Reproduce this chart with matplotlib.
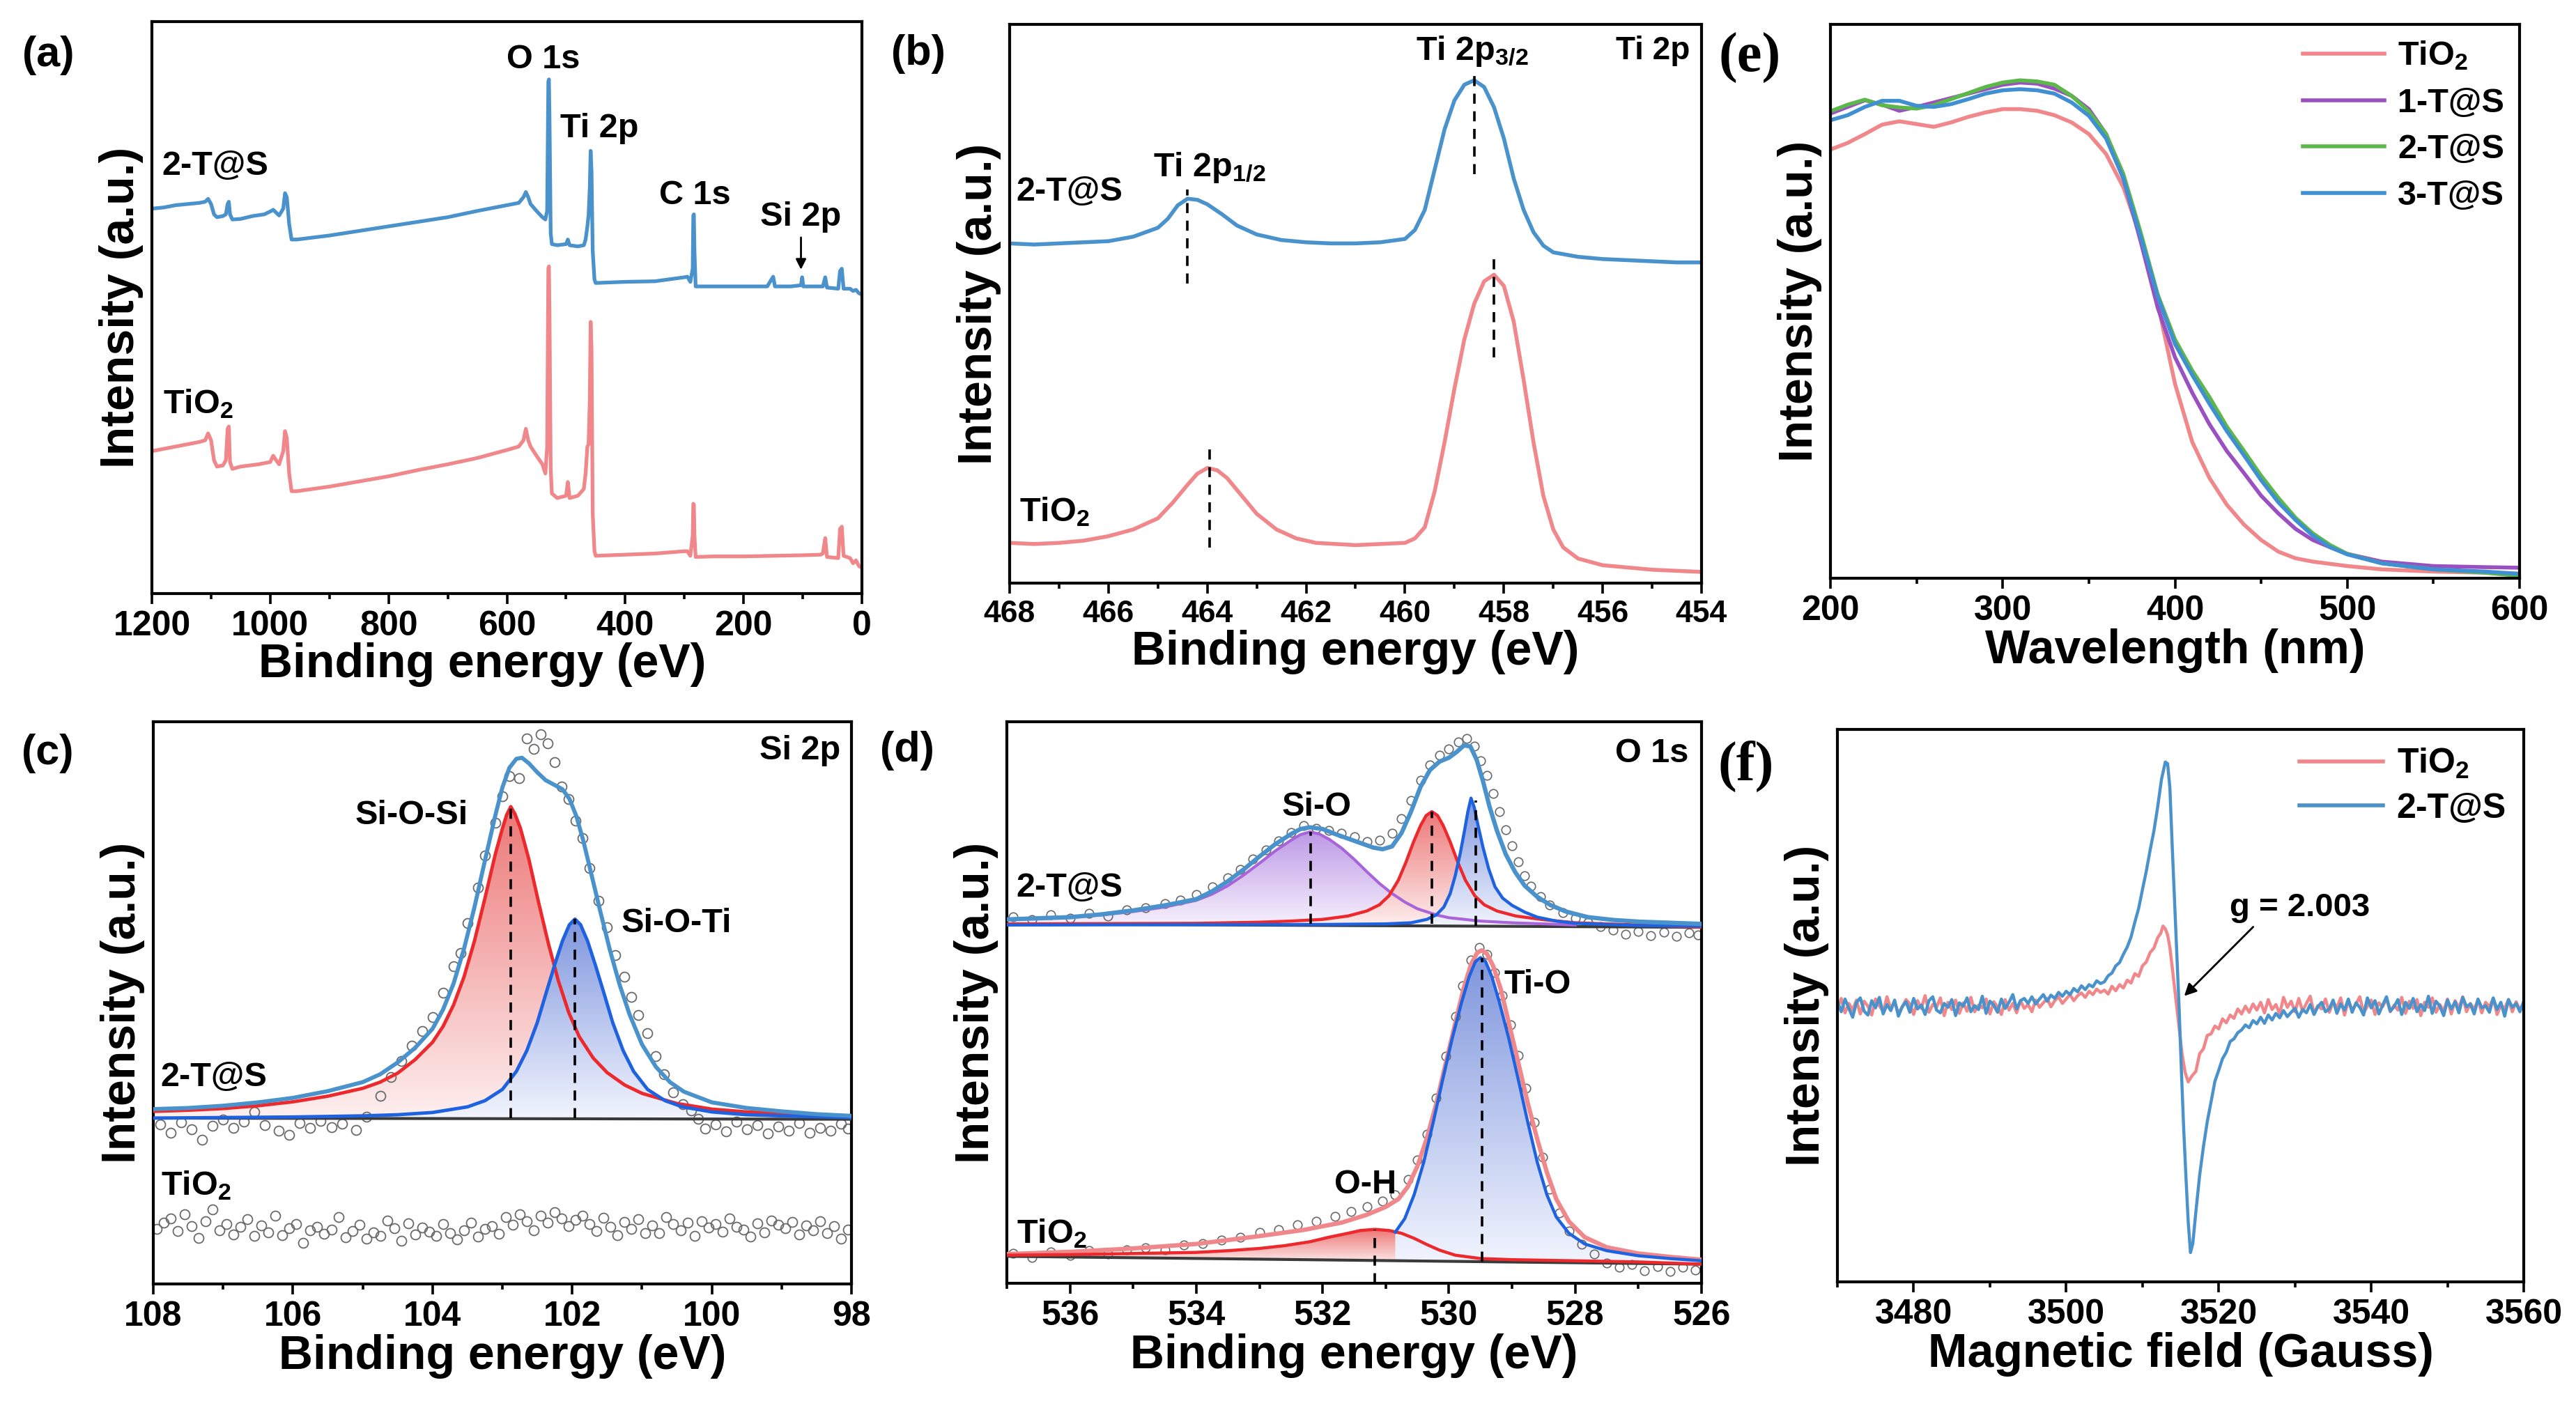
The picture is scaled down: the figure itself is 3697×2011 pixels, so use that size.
import numpy as np
import matplotlib
matplotlib.use("Agg")
import matplotlib.pyplot as plt
from matplotlib.patches import Polygon
from matplotlib.colors import LinearSegmentedColormap
from matplotlib.ticker import MultipleLocator

plt.rcParams['font.family'] = ['Liberation Sans', 'DejaVu Sans']
plt.rcParams['font.weight'] = 'bold'
plt.rcParams['axes.labelweight'] = 'bold'
plt.rcParams['mathtext.fontset'] = 'custom'
plt.rcParams['mathtext.rm'] = 'Liberation Sans:bold'
plt.rcParams['mathtext.bf'] = 'Liberation Sans:bold'
plt.rcParams['mathtext.it'] = 'Liberation Sans:bold'
plt.rcParams['mathtext.default'] = 'rm'

# ---- colours ----
PINK = '#F0878B'
STEEL = '#4A92CC'
FIT_RED = '#EC2A2E'
FIT_BLUE = '#1F62E0'
FIT_PURPLE = '#A864D8'
BASE = '#3a3a3a'
DOT = '#6a6a6a'

# ---- (a) survey, (binding energy, intensity in % of axis height) ----
A_BLUE = [(1200, 67.3), (1180, 67.5), (1160, 67.9), (1140, 68.1), (1120, 68.3), (1110, 68.5),
          (1105, 69.0), (1100, 68.1), (1095, 66.3), (1090, 65.8), (1080, 66.0), (1075, 66.3),
          (1072, 68.1), (1070, 68.5), (1068, 66.3), (1064, 65.4), (1050, 65.5), (1030, 66.0),
          (1010, 66.3), (1000, 66.8), (995, 67.1), (990, 66.6), (985, 66.1), (978, 67.3),
          (975, 70.0), (972, 69.3), (968, 64.6), (964, 61.9), (955, 61.9), (900, 62.6),
          (850, 63.4), (800, 64.2), (750, 65.0), (700, 65.8), (650, 66.9), (600, 67.9),
          (580, 68.3), (572, 69.3), (568, 70.2), (564, 69.3), (560, 68.1), (550, 66.9),
          (540, 65.8), (535, 65.4), (532, 66.9), (530, 89.5), (529, 89.9), (528, 83.3),
          (526, 63.0), (524, 61.1), (515, 60.9), (500, 61.1), (497, 61.9), (494, 60.9),
          (480, 60.7), (470, 60.9), (467, 61.9), (464, 64.2), (462, 66.1), (460, 70.8),
          (458.5, 77.4), (457, 73.9), (455, 59.9), (452, 54.9), (450, 54.3), (400, 54.5),
          (350, 54.6), (300, 55.3), (295, 55.4), (290, 54.5), (286, 56.8), (285, 66.1),
          (284, 66.3), (283, 59.9), (281, 53.7), (275, 53.7), (250, 53.7), (200, 53.7),
          (160, 53.7), (153, 54.9), (150, 55.4), (147, 53.7), (120, 53.7), (103, 53.9),
          (101, 55.3), (99, 53.7), (80, 53.7), (66, 53.7), (62, 55.3), (59, 53.5),
          (40, 53.3), (37, 56.4), (34, 56.8), (31, 53.3), (20, 53.3), (15, 52.9),
          (10, 53.1), (5, 52.5), (0, 52.3)]
A_PINK = [(1200, 24.9), (1180, 25.3), (1160, 25.7), (1140, 26.1), (1120, 26.5), (1110, 26.8),
          (1105, 28.0), (1100, 26.8), (1095, 23.3), (1090, 22.2), (1080, 22.4), (1075, 23.3),
          (1072, 28.8), (1070, 29.2), (1068, 23.0), (1064, 21.8), (1050, 22.2), (1020, 22.6),
          (1000, 23.0), (995, 24.1), (990, 23.3), (985, 22.6), (978, 24.9), (975, 28.4),
          (972, 27.2), (968, 21.0), (964, 17.9), (955, 17.9), (900, 18.7), (850, 19.6),
          (800, 20.5), (750, 21.6), (700, 22.6), (650, 23.7), (600, 25.1), (580, 25.7),
          (572, 26.8), (568, 28.8), (564, 26.8), (560, 25.7), (550, 24.1), (540, 22.6),
          (535, 21.0), (532, 25.7), (530, 56.8), (529, 57.2), (528, 49.0), (526, 21.8),
          (524, 17.5), (515, 16.7), (500, 17.1), (497, 19.5), (494, 16.7), (480, 17.1),
          (470, 18.3), (467, 21.0), (464, 25.7), (462, 26.1), (460, 33.5), (458.5, 47.5),
          (457, 42.8), (455, 14.0), (452, 7.4), (450, 6.6), (400, 6.8), (350, 7.0),
          (300, 7.4), (295, 7.4), (290, 6.6), (286, 10.1), (285, 15.7), (284, 15.6),
          (283, 10.1), (281, 6.4), (250, 6.5), (200, 6.5), (150, 6.6), (100, 6.7),
          (70, 6.8), (66, 7.0), (62, 9.7), (59, 6.4), (40, 6.2), (37, 11.3), (34, 11.7),
          (31, 6.6), (20, 6.2), (15, 5.3), (10, 5.8), (5, 4.8), (0, 4.5)]

# ---- (b) Ti 2p ----
B_BLUE = [(468, 60.8), (467.5, 60.6), (467, 60.8), (466.5, 61.0), (466, 61.2), (465.5, 62.0),
          (465, 63.6), (464.8, 65.2), (464.6, 67.6), (464.4, 68.8), (464.2, 68.6), (464, 67.8),
          (463.7, 66.0), (463.4, 64.0), (463, 62.4), (462.5, 61.4), (462, 61.0), (461.5, 60.8),
          (461, 60.8), (460.5, 61.0), (460, 61.6), (459.8, 63.2), (459.6, 66.8), (459.4, 74.0),
          (459.2, 81.2), (459, 86.4), (458.8, 89.2), (458.6, 90.0), (458.4, 88.8), (458.2, 85.2),
          (458, 79.6), (457.8, 72.4), (457.6, 66.8), (457.4, 62.8), (457.2, 60.4), (457, 59.2),
          (456.5, 58.4), (456, 58.0), (455.5, 57.8), (455, 57.6), (454.5, 57.4), (454, 57.4)]
B_PINK = [(468, 7.2), (467.5, 7.0), (467, 7.2), (466.5, 7.6), (466, 8.4), (465.5, 9.6),
          (465, 11.6), (464.7, 14.4), (464.4, 17.6), (464.2, 19.6), (464, 20.6), (463.8, 20.2),
          (463.6, 18.8), (463.3, 15.6), (463, 12.4), (462.6, 9.6), (462.2, 8.0), (461.8, 7.2),
          (461, 6.8), (460.5, 7.0), (460, 7.2), (459.8, 8.0), (459.6, 10.0), (459.4, 16.4),
          (459.2, 25.2), (459, 34.8), (458.8, 43.6), (458.6, 50.0), (458.4, 54.0), (458.2, 55.2),
          (458, 53.2), (457.8, 46.8), (457.6, 36.4), (457.4, 25.2), (457.2, 15.6), (457, 9.6),
          (456.8, 6.4), (456.5, 4.4), (456, 3.2), (455.5, 2.8), (455, 2.4), (454.5, 2.2), (454, 2.0)]
B_DASH = [(464.4, 53.6, 70.4), (458.6, 73.2, 91.2), (463.95, 6.4, 24.0), (458.2, 40.4, 58.4)]

# ---- (e) UV-vis ----
E_WL = [200, 210, 220, 230, 240, 250, 260, 270, 280, 290, 300, 310, 320, 330, 340, 350, 360,
        370, 380, 390, 400, 410, 420, 430, 440, 450, 460, 470, 480, 490, 500, 520, 550, 580, 600]
E_TIO2 = [77.4, 78.6, 80.2, 81.9, 82.5, 82.0, 81.5, 82.3, 83.3, 84.1, 84.7, 84.7, 84.4, 83.6,
          82.3, 80.2, 76.6, 70.6, 61.7, 49.6, 35.1, 24.6, 18.1, 13.3, 9.7, 6.9, 4.8, 3.6, 3.0,
          2.6, 2.2, 1.6, 1.2, 1.0, 0.8]
E_1TS = [83.9, 85.1, 86.3, 85.5, 84.4, 85.1, 85.9, 86.7, 87.5, 88.3, 89.1, 89.5, 89.3, 88.4,
         87.1, 84.7, 80.2, 72.2, 60.9, 48.8, 39.9, 33.5, 27.8, 23.0, 19.0, 14.9, 11.7, 8.9, 6.9,
         5.6, 4.4, 3.0, 2.2, 2.0, 1.9]
E_2TS = [84.3, 85.5, 86.4, 85.4, 85.0, 84.8, 85.4, 86.5, 87.6, 88.7, 89.5, 89.9, 89.7, 89.1,
         87.1, 84.3, 80.2, 73.0, 62.5, 51.2, 43.1, 37.5, 32.7, 27.4, 23.0, 18.5, 14.5, 10.9, 8.1,
         6.0, 4.4, 2.7, 1.6, 1.0, 0.4]
E_3TS = [82.7, 83.6, 85.1, 86.2, 86.2, 85.3, 85.1, 85.6, 86.5, 87.5, 88.1, 88.3, 88.1, 87.5,
         85.9, 83.5, 79.4, 72.2, 61.7, 50.8, 42.3, 36.7, 31.5, 26.6, 22.2, 17.7, 13.7, 10.5, 7.7,
         5.6, 4.3, 2.7, 1.6, 1.2, 0.8]

# ---- (c) Si 2p ----
C_BASE = [(108, 29.5), (98, 29.3)]
C_RED = [(108, 30.7), (107.5, 30.9), (107, 31.2), (106.5, 31.7), (106, 32.4), (105.5, 33.4),
         (105, 34.8), (104.75, 35.9), (104.5, 37.5), (104.25, 39.9), (104.0, 43.0),
         (103.85, 45.8), (103.7, 49.6), (103.55, 54.6), (103.4, 61.0), (103.25, 68.6),
         (103.1, 76.5), (103.0, 81.0), (102.94, 83.4), (102.88, 84.9), (102.82, 83.6),
         (102.74, 81.0), (102.62, 75.5), (102.48, 67.8), (102.34, 60.5), (102.2, 54.0),
         (102.05, 48.3), (101.9, 44.0), (101.7, 40.2), (101.5, 37.6), (101.25, 35.4),
         (101.0, 33.9), (100.5, 32.1), (100, 31.1), (99.5, 30.6), (99, 30.3), (98.5, 30.1),
         (98, 29.9)]
C_BLUE = [(108, 29.5), (107, 29.6), (106, 29.7), (105, 29.9), (104.5, 30.1), (104, 30.5),
          (103.5, 31.5), (103.25, 32.6), (103.0, 34.6), (102.8, 37.8), (102.65, 41.5),
          (102.5, 46.5), (102.38, 51.5), (102.25, 56.8), (102.14, 61.0), (102.04, 63.9),
          (101.96, 64.9), (101.88, 63.9), (101.78, 61.0), (101.67, 56.8), (101.54, 51.5),
          (101.42, 46.5), (101.27, 41.5), (101.12, 37.8), (100.92, 34.6), (100.67, 32.6),
          (100.42, 31.5), (100, 30.6), (99.5, 30.1), (99, 29.9), (98, 29.6)]
C_ENV = [(108, 31.1), (107.5, 31.3), (107, 31.7), (106.5, 32.3), (106, 33.1), (105.5, 34.3),
         (105, 35.9), (104.75, 37.3), (104.5, 39.4), (104.25, 42.0), (104.0, 45.4),
         (103.85, 48.8), (103.7, 53.4), (103.55, 59.6), (103.4, 67.0), (103.25, 75.3),
         (103.1, 83.4), (103.0, 88.3), (102.9, 91.8), (102.8, 93.4), (102.72, 93.6),
         (102.62, 92.6), (102.5, 91.0), (102.38, 89.6), (102.26, 88.8), (102.14, 88.0),
         (102.04, 86.3), (101.94, 83.2), (101.84, 78.8), (101.72, 72.6), (101.6, 66.4),
         (101.46, 59.4), (101.32, 53.2), (101.18, 48.0), (101.0, 42.6), (100.8, 38.6),
         (100.6, 35.9), (100.4, 34.2), (100, 32.3), (99.5, 31.3), (99, 30.7), (98.5, 30.2),
         (98, 29.9)]
C_DOTS_TS = [(107.9, 28.4), (107.75, 26.9), (107.6, 28.8), (107.45, 27.5), (107.3, 25.6),
             (107.15, 28.1), (107.0, 29.3), (106.85, 27.8), (106.7, 28.9), (106.55, 30.6),
             (106.4, 28.3), (106.2, 27.2), (106.05, 26.5), (105.9, 28.6), (105.75, 27.7),
             (105.6, 29.0), (105.45, 27.9), (105.3, 28.5), (105.1, 27.4), (104.95, 29.8),
             (104.75, 33.5), (104.6, 36.8), (104.45, 39.7), (104.3, 42.4), (104.15, 45.0),
             (104.0, 47.5), (103.85, 51.8), (103.7, 56.5), (103.6, 58.9), (103.5, 64.2),
             (103.35, 70.5), (103.25, 76.2), (103.1, 82.0), (103.0, 86.8), (102.9, 90.3),
             (102.76, 90.0), (102.65, 97.0), (102.55, 95.2), (102.45, 97.8), (102.35, 96.1),
             (102.25, 92.8), (102.15, 88.5), (102.05, 86.2), (101.95, 82.4), (101.85, 79.3),
             (101.75, 74.0), (101.62, 68.2), (101.5, 63.5), (101.38, 58.5), (101.25, 54.7),
             (101.15, 51.0), (101.05, 47.8), (100.92, 44.6), (100.8, 40.5), (100.68, 37.3),
             (100.55, 34.1), (100.42, 32.0), (100.3, 30.8), (100.2, 29.4), (100.1, 27.6),
             (99.95, 28.4), (99.8, 27.1), (99.65, 28.9), (99.5, 27.5), (99.35, 28.2),
             (99.2, 26.8), (99.05, 28.0), (98.9, 27.3), (98.75, 28.6), (98.6, 26.9),
             (98.45, 27.8), (98.3, 27.2), (98.15, 28.5), (98.05, 27.6)]
C_TIO2_E = np.linspace(107.95, 98.05, 100)
C_TIO2_Y = [9.8, 10.9, 11.6, 9.4, 12.4, 10.3, 8.2, 11.1, 13.3, 9.6,
            10.7, 8.8, 10.1, 11.5, 8.5, 10.4, 9.2, 12.2, 8.7, 9.9,
            10.6, 7.3, 9.5, 10.2, 8.9, 9.7, 11.9, 8.3, 9.4, 10.5,
            8.0, 9.2, 8.6, 11.3, 9.9, 7.7, 10.8, 8.8, 10.0, 9.3,
            8.5, 10.6, 9.1, 7.9, 9.6, 10.9, 8.4, 9.8, 10.3, 8.9,
            11.9, 10.5, 12.4, 11.2, 9.6, 12.1, 10.9, 12.8, 11.7, 10.3,
            11.4, 12.2, 10.7, 9.4, 11.8, 10.1, 8.7, 11.0, 9.8, 11.5,
            9.0, 10.4, 9.1, 11.9, 10.6, 9.5, 10.9, 8.6, 11.1, 10.0,
            10.7, 9.3, 11.6, 10.2, 9.7, 8.4, 10.8, 9.2, 11.3, 10.5,
            9.9, 11.0, 8.8, 10.4, 9.6, 11.2, 9.0, 10.3, 8.1, 9.7]
C_DASH = [(102.88, 29.5, 84.9), (101.96, 29.5, 64.9)]

# ---- (d) O 1s ----
D_BASE_UP = [(537, 64.0), (526, 63.4)]
D_BASE_LO = [(537, 4.8), (526, 3.4)]
D_PURPLE = [(537, 64.8), (536.5, 65.0), (536, 65.2), (535.5, 65.6), (535, 66.2), (534.5, 67.0),
            (534.0, 68.2), (533.75, 69.3), (533.5, 70.8), (533.25, 72.7), (533.0, 74.8),
            (532.75, 77.0), (532.5, 78.9), (532.35, 79.9), (532.2, 80.4), (532.05, 80.0),
            (531.9, 79.1), (531.7, 77.5), (531.5, 75.5), (531.3, 73.3), (531.1, 71.2),
            (530.9, 69.4), (530.7, 67.9), (530.5, 66.7), (530.2, 65.6), (530.0, 65.1),
            (529.5, 64.5), (529, 64.2), (528, 63.8)]
D_RED_UP = [(537, 64.0), (534, 64.1), (533, 64.3), (532.5, 64.5), (532, 64.8), (531.6, 65.4),
            (531.3, 66.3), (531.1, 67.4), (530.95, 69.0), (530.8, 71.8), (530.68, 75.0),
            (530.56, 78.6), (530.45, 81.5), (530.36, 83.3), (530.27, 84.0), (530.18, 83.3),
            (530.09, 81.5), (529.98, 78.6), (529.86, 75.0), (529.74, 71.8), (529.59, 69.0),
            (529.44, 67.4), (529.24, 66.3), (528.94, 65.4), (528.54, 64.8), (528, 64.2),
            (527, 63.8), (526, 63.4)]
D_BLUE_UP = [(537, 63.8), (532, 63.9), (531, 64.0), (530.6, 64.2), (530.35, 64.8), (530.2, 65.6),
             (530.08, 67.0), (529.98, 69.4), (529.9, 72.6), (529.82, 76.6), (529.75, 80.8),
             (529.7, 84.0), (529.65, 86.4), (529.6, 84.8), (529.54, 81.6), (529.46, 77.6),
             (529.37, 73.8), (529.27, 70.6), (529.15, 68.6), (529.0, 67.3), (528.8, 66.1),
             (528.6, 65.2), (528.3, 64.5), (528, 64.1), (527, 63.7), (526, 63.6)]
D_ENV_UP = [(537, 64.8), (536.5, 65.0), (536, 65.2), (535.5, 65.7), (535, 66.4), (534.5, 67.3),
            (534, 68.4), (533.75, 69.8), (533.5, 71.6), (533.25, 73.7), (533, 76.0),
            (532.75, 78.2), (532.5, 80.0), (532.35, 80.9), (532.2, 81.2), (532.0, 80.9),
            (531.8, 80.0), (531.6, 79.2), (531.4, 78.4), (531.2, 77.6), (531.05, 77.3),
            (530.9, 77.8), (530.75, 80.2), (530.6, 84.0), (530.45, 88.4), (530.3, 91.4),
            (530.15, 92.9), (530.0, 93.6), (529.88, 94.6), (529.76, 95.8), (529.66, 95.6),
            (529.56, 93.2), (529.46, 89.4), (529.36, 85.0), (529.24, 80.6), (529.1, 76.4),
            (528.95, 73.2), (528.8, 70.8), (528.6, 68.8), (528.4, 67.4), (528.15, 66.2),
            (527.8, 65.2), (527.4, 64.7), (527, 64.4), (526.5, 64.2), (526, 64.0)]
D_RED_LO = [(537, 5.0), (536, 5.1), (535, 5.3), (534, 5.5), (533.5, 5.8), (533, 6.2),
            (532.6, 6.7), (532.2, 7.4), (531.9, 8.2), (531.6, 8.9), (531.4, 9.4), (531.17, 9.6),
            (530.95, 9.4), (530.75, 8.9), (530.55, 8.0), (530.35, 6.9), (530.15, 5.9),
            (529.9, 5.0), (529.5, 4.4), (529, 4.2), (528, 4.0), (527, 3.8), (526, 3.4)]
D_BLUE_LO = [(530.85, 9.1), (530.7, 11.5), (530.55, 15.8), (530.4, 21.5), (530.25, 28.6),
             (530.1, 36.2), (529.95, 43.5), (529.8, 50.0), (529.68, 54.6), (529.58, 57.3),
             (529.5, 58.0), (529.42, 57.3), (529.32, 54.6), (529.2, 50.0), (529.05, 43.5),
             (528.9, 36.2), (528.75, 28.6), (528.6, 21.5), (528.45, 15.8), (528.3, 11.8),
             (528.1, 8.9), (527.85, 7.0), (527.5, 5.8), (527, 4.9), (526.5, 4.4), (526, 4.0)]
D_ENV_LO = [(537, 5.2), (536, 5.6), (535, 6.2), (534, 7.0), (533, 8.4), (532.3, 9.5),
            (531.7, 10.8), (531.3, 12.2), (531.0, 13.6), (530.8, 15.0), (530.65, 17.2),
            (530.5, 20.8), (530.35, 25.8), (530.2, 32.0), (530.05, 39.2), (529.9, 46.3),
            (529.77, 52.4), (529.65, 56.8), (529.55, 58.9), (529.48, 59.3), (529.4, 58.7),
            (529.3, 56.5), (529.18, 52.4), (529.05, 46.3), (528.9, 39.2), (528.75, 32.0),
            (528.6, 25.6), (528.45, 19.8), (528.3, 15.0), (528.1, 11.0), (527.85, 8.2),
            (527.5, 6.4), (527, 5.3), (526.5, 4.7), (526, 4.2)]
D_DOTS_UP = [(536.9, 65.3), (536.6, 64.8), (536.3, 65.6), (536.0, 65.0), (535.7, 65.9),
             (535.4, 65.4), (535.1, 66.5), (534.8, 66.9), (534.5, 67.6), (534.25, 68.3),
             (534.0, 69.2), (533.75, 70.6), (533.5, 72.2), (533.3, 73.7), (533.1, 75.5),
             (532.9, 77.2), (532.7, 78.8), (532.5, 80.3), (532.3, 81.5), (532.1, 81.0),
             (531.9, 80.6), (531.7, 80.1), (531.5, 79.5), (531.3, 78.6), (531.1, 78.9),
             (530.9, 80.2), (530.75, 82.8), (530.6, 86.0), (530.45, 89.6), (530.3, 92.3),
             (530.15, 94.0), (530.0, 95.2), (529.85, 96.4), (529.72, 97.0), (529.6, 95.6),
             (529.5, 93.0), (529.4, 90.4), (529.3, 87.2), (529.2, 84.0), (529.1, 80.8),
             (529.0, 77.9), (528.9, 75.1), (528.8, 72.6), (528.7, 70.7), (528.55, 68.8),
             (528.4, 67.4), (528.2, 66.0), (528.0, 65.0), (527.8, 64.3), (527.6, 63.5),
             (527.4, 62.9), (527.2, 62.2), (527.0, 62.7), (526.8, 61.9), (526.6, 62.5),
             (526.4, 61.8), (526.2, 62.4), (526.05, 62.0)]
D_DOTS_LO = [(536.9, 5.3), (536.6, 4.6), (536.3, 5.6), (536.0, 5.0), (535.7, 5.8), (535.4, 5.2),
             (535.1, 6.0), (534.8, 6.3), (534.5, 5.9), (534.2, 6.8), (533.9, 7.1), (533.6, 7.7),
             (533.3, 8.2), (533.0, 9.0), (532.7, 9.6), (532.4, 10.4), (532.1, 11.1),
             (531.8, 11.9), (531.55, 12.8), (531.3, 13.7), (531.05, 14.6), (530.85, 15.8),
             (530.65, 18.5), (530.5, 21.9), (530.35, 26.5), (530.2, 33.0), (530.05, 40.5),
             (529.9, 47.5), (529.78, 53.0), (529.65, 57.6), (529.52, 59.8), (529.4, 58.5),
             (529.28, 55.3), (529.15, 51.2), (529.02, 46.0), (528.9, 40.6), (528.78, 34.8),
             (528.65, 28.6), (528.52, 22.4), (528.4, 16.8), (528.25, 12.5), (528.1, 9.3),
             (527.9, 7.0), (527.7, 5.2), (527.5, 3.6), (527.3, 2.8), (527.1, 3.4), (526.9, 2.2),
             (526.7, 3.0), (526.5, 2.1), (526.3, 2.9), (526.1, 2.4)]
D_DASH = [(532.19, 64.0, 80.4), (530.27, 64.0, 84.0), (529.58, 63.6, 86.0),
          (531.17, 0.0, 9.6), (529.47, 3.8, 58.0)]

# ---- (f) EPR ----
F_B_LEFT = np.arange(3470, 3505, 0.5)
F_B_RIGHT = np.arange(3525.5, 3560.01, 0.5)
F_BLUE_LEFT = [50.8, 48.9, 51.2, 49.5, 47.9, 50.6, 51.4, 49.0, 48.3, 50.9,
               49.6, 51.5, 48.5, 50.2, 49.1, 51.0, 48.1, 49.8, 50.7, 48.8,
               51.3, 49.4, 50.1, 48.4, 50.9, 51.6, 49.2, 48.7, 50.4, 49.7,
               51.1, 48.2, 50.5, 49.9, 51.4, 48.9, 50.0, 49.3, 51.7, 48.6,
               50.8, 50.1, 48.8, 51.2, 49.5, 50.6, 52.0, 49.4, 50.9, 51.3,
               50.4, 51.6, 50.3, 51.2, 52.0, 50.8, 51.9, 51.3, 52.4, 51.7,
               52.6, 52.0, 53.1, 52.5, 53.6, 52.9, 53.8, 53.4, 54.5, 54.0]
F_B_MID_BLUE = [3505, 3505.5, 3506, 3506.5, 3507, 3507.5, 3508, 3508.5, 3509, 3509.5, 3510,
                3510.5, 3511, 3511.5, 3512, 3512.5, 3513, 3513.3, 3513.6, 3513.9, 3514.2,
                3514.5, 3514.8, 3515.1, 3515.4, 3515.7, 3516.0, 3516.3, 3516.6, 3517, 3517.5,
                3518, 3518.5, 3519, 3519.5, 3520, 3520.5, 3521, 3521.5, 3522, 3522.5, 3523,
                3523.5, 3524, 3524.5, 3525]
F_BLUE_MID = [54.3, 55.4, 55.9, 57.2, 57.8, 59.3, 60.6, 62.4, 65.1, 67.6, 71.0, 74.3, 78.1,
              81.6, 86.0, 91.0, 94.1, 93.8, 89.4, 79.0, 69.3, 59.6, 49.9, 38.5, 28.0, 19.1,
              10.9, 5.3, 6.9, 12.6, 19.3, 24.5, 29.0, 32.6, 36.3, 38.3, 40.4, 41.6, 43.5, 44.0,
              45.1, 45.6, 46.5, 46.0, 47.3, 46.7]
F_BLUE_RIGHT = [47.9, 46.8, 48.3, 47.4, 48.6, 47.8, 49.1, 48.0, 48.8, 49.5,
                47.9, 49.3, 48.7, 50.2, 48.4, 49.8, 50.6, 48.9, 49.4, 51.0,
                48.6, 50.3, 49.2, 51.2, 48.8, 50.5, 49.7, 48.3, 51.4, 49.6,
                50.9, 48.5, 50.1, 51.6, 49.0, 49.8, 51.1, 48.4, 50.6, 49.5,
                51.3, 48.9, 50.2, 49.1, 51.7, 48.6, 50.8, 49.9, 48.2, 51.0,
                49.4, 50.7, 48.7, 51.5, 49.8, 50.3, 48.5, 51.2, 49.6, 50.0,
                48.8, 51.4, 49.3, 50.6, 48.1, 51.1, 49.7, 50.4, 48.9, 50.8]
F_PINK_LEFT = [49.6, 51.3, 48.7, 50.4, 49.2, 51.0, 48.5, 50.8, 49.9, 48.3,
               51.2, 50.0, 48.9, 51.6, 49.4, 50.7, 48.6, 49.8, 51.1, 50.3,
               48.4, 50.9, 49.5, 51.8, 48.8, 50.2, 49.7, 51.4, 48.2, 50.6,
               49.3, 51.0, 48.6, 50.5, 49.0, 51.5, 48.9, 50.1, 49.6, 51.2,
               48.5, 50.7, 49.8, 48.4, 51.1, 49.2, 50.4, 48.7, 50.9, 49.5,
               50.2, 48.9, 51.0, 49.7, 50.5, 51.3, 49.8, 50.9, 51.6, 50.4,
               51.2, 52.0, 50.9, 51.8, 52.3, 51.5, 52.6, 52.0, 53.0, 52.4]
F_B_MID_PINK = [3505, 3505.5, 3506, 3506.5, 3507, 3507.5, 3508, 3508.5, 3509, 3509.5, 3510,
                3510.5, 3511, 3511.5, 3512, 3512.4, 3512.7, 3513.0, 3513.3, 3513.6, 3514.0,
                3514.4, 3514.8, 3515.2, 3515.6, 3516.0, 3516.5, 3517, 3517.5, 3518, 3518.5,
                3519, 3519.5, 3520, 3520.5, 3521, 3521.5, 3522, 3522.5, 3523, 3523.5, 3524,
                3524.5, 3525]
F_PINK_MID = [52.8, 52.1, 53.5, 52.7, 53.8, 53.2, 54.6, 54.1, 55.8, 55.3, 57.2, 57.9, 59.6,
              60.4, 62.3, 63.1, 64.4, 63.9, 62.8, 60.5, 55.8, 50.9, 45.9, 41.2, 37.9, 36.2,
              37.3, 38.1, 41.3, 42.2, 44.6, 44.9, 46.3, 45.8, 47.6, 46.9, 48.3, 47.7, 49.4,
              48.5, 49.9, 48.8, 50.3, 49.2]
F_PINK_RIGHT = [50.6, 48.7, 51.1, 49.3, 50.2, 48.5, 51.5, 49.7, 50.8, 48.9,
                51.3, 49.0, 50.4, 51.7, 48.6, 50.0, 49.4, 51.2, 48.8, 50.7,
                49.6, 51.4, 48.3, 50.9, 49.1, 50.3, 51.6, 48.7, 49.9, 51.0,
                48.4, 50.5, 49.8, 51.3, 48.9, 50.1, 49.2, 51.5, 48.6, 50.8,
                49.5, 51.1, 48.2, 50.6, 49.7, 51.4, 48.8, 50.2, 49.0, 51.2,
                48.5, 50.9, 49.6, 51.6, 48.9, 50.4, 49.3, 51.0, 48.7, 50.6,
                49.8, 51.3, 48.4, 50.1, 49.5, 51.1, 48.9, 50.7, 49.2, 50.5]

W, H = 3697, 2011


def rect(l, r, t, b):
    return [l / W, 1 - b / H, (r - l) / W, (b - t) / H]


def xy(pairs):
    arr = np.array(pairs, dtype=float)
    return arr[:, 0], arr[:, 1]


def style(ax, xlim, major, minor, xlabel, tick_fs=36, label_fs=49):
    ax.set_xlim(*xlim)
    ax.set_ylim(0, 100)
    ax.set_yticks([])
    ax.xaxis.set_major_locator(MultipleLocator(major))
    ax.xaxis.set_minor_locator(MultipleLocator(minor))
    ax.tick_params(axis='x', which='major', direction='out', length=11, width=2.6,
                   labelsize=tick_fs, pad=6)
    ax.tick_params(axis='x', which='minor', direction='out', length=6, width=2.6)
    for s in ax.spines.values():
        s.set_linewidth(3)
    ax.set_xlabel(xlabel, fontsize=label_fs, labelpad=2)
    ax.set_ylabel('Intensity (a.u.)', fontsize=label_fs)
    ax.yaxis.set_label_coords(-0.012, 0.5)


def gradient_fill(ax, pairs, base, top_rgb, bot_rgb, z=1):
    # shade the area between a fitted component and its straight background line
    xs, ys = xy(pairs)
    bx, by = xy(base)
    order = np.argsort(bx)
    yb = np.interp(xs, bx[order], by[order])
    verts = np.vstack([np.column_stack([xs, ys]), np.column_stack([xs[::-1], yb[::-1]])])
    poly = Polygon(verts, closed=True, fc='none', ec='none')
    ax.add_patch(poly)
    cmap = LinearSegmentedColormap.from_list('fade', [bot_rgb, top_rgb])
    im = ax.imshow(np.linspace(0, 1, 256).reshape(-1, 1), cmap=cmap, aspect='auto',
                   origin='lower', extent=[xs.min(), xs.max(), yb.min(), ys.max()],
                   zorder=z, interpolation='bilinear')
    im.set_clip_path(poly)


def dashes(ax, items, lw=2.6):
    for x0, y0, y1 in items:
        ax.plot([x0, x0], [y0, y1], color='k', lw=lw, ls=(0, (4, 3)), zorder=5)


fig = plt.figure(figsize=(W / 100, H / 100), dpi=100)
TXT = 35
RED_TOP, RED_BOT = (0.93, 0.47, 0.47), (0.995, 0.94, 0.94)
BLU_TOP, BLU_BOT = (0.50, 0.59, 0.87), (0.95, 0.96, 0.995)
PUR_TOP, PUR_BOT = (0.74, 0.60, 0.90), (0.97, 0.95, 0.995)

# ---------- (a) ----------
ax = fig.add_axes(rect(218, 1237, 31, 852))
x, y = xy(A_BLUE)
ax.plot(x, y, color=STEEL, lw=3.8)
x, y = xy(A_PINK)
ax.plot(x, y, color=PINK, lw=3.8)
style(ax, (1200, 0), 200, 100, 'Binding energy (eV)')
ax.xaxis.set_label_coords(0.465, -0.085)
ax.text(538, 93.4, 'O 1s', fontsize=TXT, ha='center', va='center')
ax.text(444, 81.3, 'Ti 2p', fontsize=TXT, ha='center', va='center')
ax.text(282, 69.6, 'C 1s', fontsize=TXT, ha='center', va='center')
ax.text(103, 65.8, 'Si 2p', fontsize=TXT, ha='center', va='center')
ax.annotate('', xy=(103, 56.3), xytext=(103, 62.6),
            arrowprops=dict(arrowstyle='-|>', color='k', lw=2, mutation_scale=22))
ax.text(1183, 74.7, '2-T@S', fontsize=TXT, ha='left', va='center')
ax.text(1181, 33.1, 'TiO$_2$', fontsize=TXT, ha='left', va='center')

# ---------- (b) ----------
ax = fig.add_axes(rect(1449, 2442, 35, 837))
x, y = xy(B_BLUE)
ax.plot(x, y, color=STEEL, lw=4)
x, y = xy(B_PINK)
ax.plot(x, y, color=PINK, lw=4)
dashes(ax, B_DASH)
style(ax, (468, 454), 2, 1, 'Binding energy (eV)', tick_fs=32)
ax.text(463.95, 74.4, 'Ti 2p$_{1/2}$', fontsize=TXT, ha='center', va='center')
ax.text(458.64, 95.2, 'Ti 2p$_{3/2}$', fontsize=TXT, ha='center', va='center')
ax.text(454.23, 95.2, 'Ti 2p', fontsize=33, ha='right', va='center')
ax.text(467.87, 70.0, '2-T@S', fontsize=TXT, ha='left', va='center')
ax.text(467.8, 12.8, 'TiO$_2$', fontsize=TXT, ha='left', va='center')

# ---------- (e) ----------
ax = fig.add_axes(rect(2627, 3616, 35, 830))
ax.plot(E_WL, E_TIO2, color=PINK, lw=4, label='TiO$_2$')
ax.plot(E_WL, E_1TS, color='#9B50C2', lw=4, label='1-T@S')
ax.plot(E_WL, E_2TS, color='#5CB848', lw=4, label='2-T@S')
ax.plot(E_WL, E_3TS, color='#3F8FD2', lw=4, label='3-T@S')
style(ax, (200, 600), 100, 50, 'Wavelength (nm)')
ax.legend(loc='upper right', frameon=False, fontsize=TXT, handlelength=2.4,
          handletextpad=0.4, labelspacing=0.45, borderaxespad=0.05)

# ---------- (c) ----------
ax = fig.add_axes(rect(220, 1222, 1036, 1843))
gradient_fill(ax, C_RED, C_BASE, RED_TOP, RED_BOT)
gradient_fill(ax, C_BLUE, C_BASE, BLU_TOP, BLU_BOT)
x, y = xy(C_DOTS_TS)
ax.plot(x, y, 'o', mfc='none', mec=DOT, ms=10, mew=1.3, zorder=2)
ax.plot(C_TIO2_E, C_TIO2_Y, 'o', mfc='none', mec=DOT, ms=10, mew=1.3, zorder=2)
x, y = xy(C_BASE)
ax.plot(x, y, color=BASE, lw=3, zorder=3)
x, y = xy(C_RED)
ax.plot(x, y, color=FIT_RED, lw=3.5, zorder=4)
x, y = xy(C_BLUE)
ax.plot(x, y, color=FIT_BLUE, lw=3.5, zorder=4)
x, y = xy(C_ENV)
ax.plot(x, y, color=STEEL, lw=4.2, zorder=4)
dashes(ax, C_DASH)
style(ax, (108, 98), 2, 1, 'Binding energy (eV)')
ax.text(104.3, 83.3, 'Si-O-Si', fontsize=TXT, ha='center', va='center')
ax.text(100.51, 64.1, 'Si-O-Ti', fontsize=TXT, ha='center', va='center')
ax.text(98.16, 94.8, 'Si 2p', fontsize=TXT, ha='right', va='center')
ax.text(107.9, 36.7, '2-T@S', fontsize=TXT, ha='left', va='center')
ax.text(107.89, 17.5, 'TiO$_2$', fontsize=TXT, ha='left', va='center')

# ---------- (d) ----------
ax = fig.add_axes(rect(1445, 2442, 1036, 1842))
gradient_fill(ax, D_PURPLE, D_BASE_UP, PUR_TOP, PUR_BOT)
gradient_fill(ax, D_RED_UP, D_BASE_UP, RED_TOP, RED_BOT)
gradient_fill(ax, D_BLUE_UP, D_BASE_UP, BLU_TOP, BLU_BOT)
gradient_fill(ax, D_RED_LO, D_BASE_LO, RED_TOP, RED_BOT)
gradient_fill(ax, D_BLUE_LO, D_BASE_LO, BLU_TOP, BLU_BOT)
for pairs in (D_DOTS_UP, D_DOTS_LO):
    x, y = xy(pairs)
    ax.plot(x, y, 'o', mfc='none', mec=DOT, ms=9, mew=1.2, zorder=2)
for pairs in (D_BASE_UP, D_BASE_LO):
    x, y = xy(pairs)
    ax.plot(x, y, color=BASE, lw=3, zorder=3)
x, y = xy(D_PURPLE)
ax.plot(x, y, color=FIT_PURPLE, lw=3, zorder=4)
x, y = xy(D_ENV_LO)
ax.plot(x, y, color=PINK, lw=4.5, zorder=4)
for pairs in (D_RED_UP, D_RED_LO):
    x, y = xy(pairs)
    ax.plot(x, y, color=FIT_RED, lw=3.2, zorder=4)
for pairs in (D_BLUE_UP, D_BLUE_LO):
    x, y = xy(pairs)
    ax.plot(x, y, color=FIT_BLUE, lw=3.2, zorder=4)
x, y = xy(D_ENV_UP)
ax.plot(x, y, color=STEEL, lw=4.5, zorder=4)
dashes(ax, D_DASH)
style(ax, (537, 526), 2, 1, 'Binding energy (eV)')
ax.text(532.1, 84.8, 'Si-O', fontsize=TXT, ha='center', va='center')
ax.text(528.6, 53.2, 'Ti-O', fontsize=TXT, ha='center', va='center')
ax.text(531.32, 17.6, 'O-H', fontsize=TXT, ha='center', va='center')
ax.text(526.2, 94.4, 'O 1s', fontsize=TXT, ha='right', va='center')
ax.text(536.85, 70.4, '2-T@S', fontsize=TXT, ha='left', va='center')
ax.text(536.85, 8.8, 'TiO$_2$', fontsize=TXT, ha='left', va='center')

# ---------- (f) ----------
ax = fig.add_axes(rect(2637, 3622, 1047, 1840))
pink_b = np.concatenate([F_B_LEFT, F_B_MID_PINK, F_B_RIGHT])
pink_y = np.concatenate([F_PINK_LEFT, F_PINK_MID, F_PINK_RIGHT])
blue_b = np.concatenate([F_B_LEFT, F_B_MID_BLUE, F_B_RIGHT])
blue_y = np.concatenate([F_BLUE_LEFT, F_BLUE_MID, F_BLUE_RIGHT])
ax.plot(pink_b, pink_y, color=PINK, lw=3.2, label='TiO$_2$')
ax.plot(blue_b, blue_y, color=STEEL, lw=3.2, label='2-T@S')
style(ax, (3470, 3560), 20, 10, 'Magnetic field (Gauss)')
ax.annotate('', xy=(3515.3, 51.5), xytext=(3524.7, 64.5),
            arrowprops=dict(arrowstyle='-|>', color='k', lw=2, mutation_scale=26))
ax.text(3530.6, 67.7, 'g = 2.003', fontsize=34, ha='center', va='center')
leg = ax.legend(loc='upper right', frameon=False, fontsize=36, handlelength=2.4,
                handletextpad=0.4, labelspacing=0.35, borderaxespad=0.1)
for line in leg.get_lines():
    line.set_linewidth(4)

# ---------- panel letters ----------
for lab, px, py, serif in [('(a)', 69, 80, False), ('(b)', 1318, 77, False),
                           ('(e)', 2511, 83, True), ('(c)', 68, 1081, False),
                           ('(d)', 1302, 1077, False), ('(f)', 2506, 1100, True)]:
    if serif:
        fig.text(px / W, 1 - py / H, lab, fontsize=58, ha='center', va='center',
                 family='Liberation Serif', weight='bold')
    else:
        fig.text(px / W, 1 - py / H, lab, fontsize=44, ha='center', va='center')

fig.savefig('out.png', dpi=100)
